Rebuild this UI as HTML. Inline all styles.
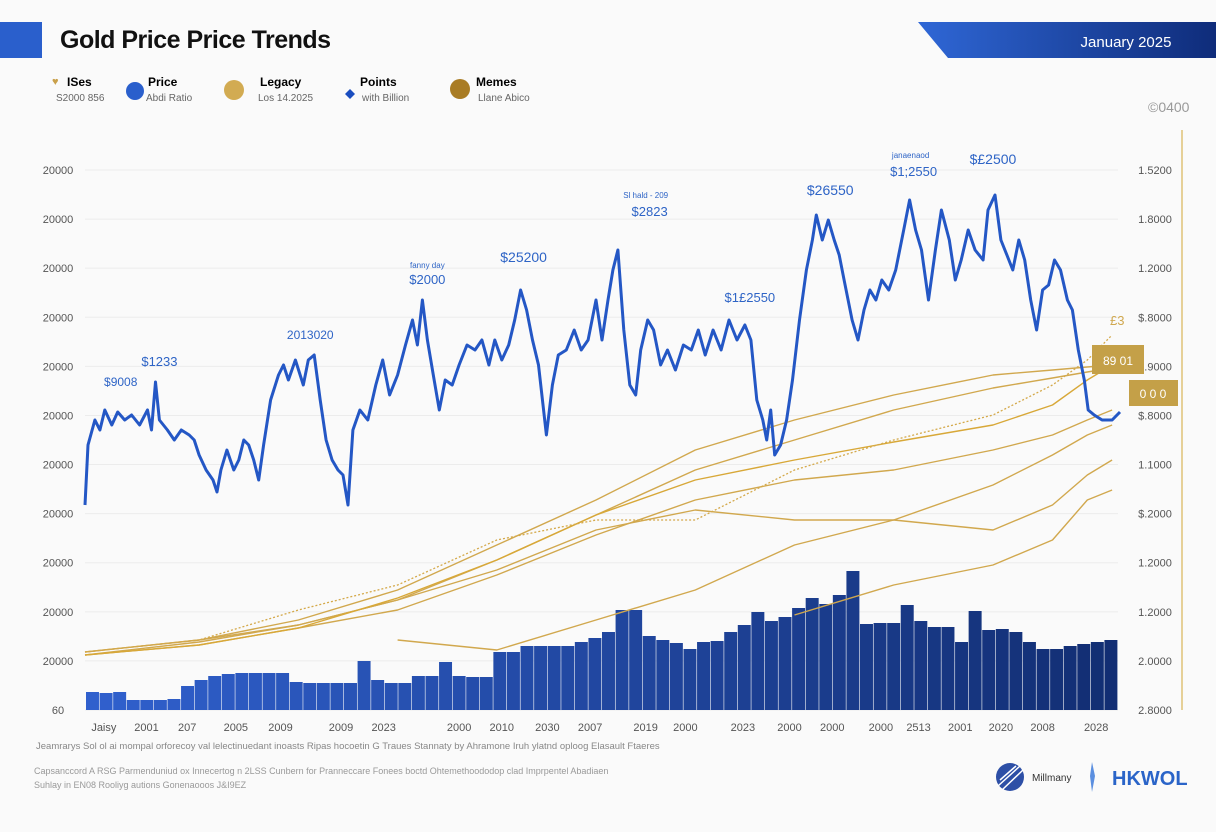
<!DOCTYPE html>
<html><head><meta charset="utf-8">
<style>
body{margin:0;width:1216px;height:832px;background:#fafafa;font-family:"Liberation Sans",sans-serif;overflow:hidden;position:relative}
.abs{position:absolute}
</style></head><body>
<div class="abs" style="left:0;top:22px;width:42px;height:36px;background:#2a5fcc"></div>
<div class="abs" style="left:60px;top:26px;font-size:25px;font-weight:bold;color:#111;letter-spacing:-0.5px">Gold Price Price Trends</div>
<svg class="abs" style="left:0;top:0" width="1216" height="832">
<defs>
<linearGradient id="bn" x1="0" x2="1"><stop offset="0" stop-color="#2f67d6"/><stop offset="1" stop-color="#0f2c7a"/></linearGradient>
</defs>
<polygon points="918,22 1216,22 1216,58 948,58" fill="url(#bn)"/>
<text x="1126" y="47" fill="#fff" font-size="15" text-anchor="middle">January 2025</text>
<g id="legend" font-size="12">
<g><text x="52" y="85" fill="#c9a04a" font-size="11">♥</text><text x="67" y="86" font-weight="bold">ISes</text><text x="56" y="101" fill="#666" font-size="10">S2000 856</text></g>
<g><circle cx="135" cy="91" r="9" fill="#2a5fcc"/><text x="148" y="86" font-weight="bold">Price</text><text x="146" y="101" fill="#666" font-size="10">Abdi Ratio</text></g>
<g><circle cx="234" cy="90" r="10" fill="#d2ab52"/><text x="260" y="86" font-weight="bold">Legacy</text><text x="258" y="101" fill="#666" font-size="10">Los 14.2025</text></g>
<g><path d="M350,89 l5,5 -5,5 -5,-5z" fill="#1a4dbf"/><text x="360" y="86" font-weight="bold">Points</text><text x="362" y="101" fill="#666" font-size="10">with Billion</text></g>
<g><circle cx="460" cy="89" r="10" fill="#a97c24"/><text x="476" y="86" font-weight="bold">Memes</text><text x="478" y="101" fill="#666" font-size="10">Llane Abico</text></g>
</g>
<text x="1148" y="112" fill="#999" font-size="14">©0400</text>
<g id="grid"></g><g id="bars"></g><g id="gold"></g><g id="price"></g><g id="axes"></g><g id="notes"></g>
<line x1="1182" y1="130" x2="1182" y2="710" stroke="#e0c176" stroke-width="1.5"/>
<g><rect x="1092" y="345" width="52" height="29" fill="#c4a048"/><text x="1118" y="365" fill="#fff" font-size="12" text-anchor="middle">89 01</text></g>
<g><rect x="1129" y="380" width="49" height="26" fill="#c4a048"/><text x="1153" y="398" fill="#fff" font-size="12" text-anchor="middle">0 0 0</text></g>
<text x="1110" y="325" fill="#d0a850" font-size="13">£3</text>
<text x="36" y="749" fill="#888" font-size="9.5">Jeamrarys Sol ol ai mompal orforecoy val lelectinuedant inoasts Ripas hocoetin G Traues Stannaty by Ahramone Iruh ylatnd oploog Elasault Ftaeres</text>
<text x="34" y="774" fill="#999" font-size="9">Capsanccord A RSG Parmenduniud ox Innecertog n 2LSS Cunbern for Pranneccare Fonees boctd Ohtemethoododop clad Imprpentel Abadiaen</text>
<text x="34" y="788" fill="#999" font-size="9">Suhlay in EN08 Rooliyg autions Gonenaooos J&amp;I9EZ</text>
<g><circle cx="1010" cy="777" r="14" fill="#2d4fa6"/><path d="M998,786 L1020,766 M1002,790 L1023,770 M1000,780 L1016,766" stroke="#fff" stroke-width="1.5"/></g>
<text x="1032" y="781" font-size="10" fill="#333">Millmany</text>
<path d="M1092,762 l3,14 -3,16 -2,-16z" fill="#5b8fe0"/>
<text x="1112" y="785" font-size="20" font-weight="bold" fill="#2a64c8">HKWOL</text>
</svg>
<script>
const leftTicks=["60","20000","20000","20000","20000","20000","20000","20000","20000","20000","20000","20000"];
const rightTicks=["2.8000","2.0000","1.2000","1.2000","$.2000","1.1000","$.8000","1.9000","$.8000","1.2000","1.8000","1.5200"];
const xLabels=["Jaisy","2001","207","2005","2009","2009","2023","2000","2010","2030","2007","2019","2000","2023","2000","2000","2000","2513","2001","2020","2008","2028"];
const xLabelTimes=[19,62,103,152,197,258,301,377,420,466,509,565,605,663,710,753,802,840,882,923,965,1019];
const barValues=[18,17,18,10,10,10,11,24,30,34,36,37,37,37,37,28,27,27,27,27,49,30,27,27,34,34,48,34,33,33,58,58,64,64,64,64,68,72,78,100,100,74,70,67,61,68,69,78,85,98,89,93,102,112,106,115,139,86,87,87,105,89,83,83,68,99,80,81,78,68,61,61,64,66,68,70];
const pricePoints=[[0,205],[3,265],[10,290],[15,280],[20,300],[27,285],[33,298],[40,290],[47,295],[55,285],[63,300],[67,280],[71,328],[75,290],[83,280],[90,270],[97,280],[105,275],[110,270],[115,255],[122,240],[129,230],[133,218],[137,240],[143,260],[150,240],[155,250],[160,270],[165,265],[170,250],[175,230],[180,265],[187,310],[195,335],[200,345],[205,330],[212,350],[220,325],[225,350],[231,355],[237,310],[243,270],[249,250],[255,240],[260,235],[265,205],[270,280],[277,300],[285,290],[293,325],[300,350],[307,315],[315,335],[323,365],[330,390],[335,365],[340,410],[345,370],[351,335],[357,300],[363,330],[370,325],[377,345],[385,365],[393,360],[400,370],[407,345],[413,370],[420,350],[427,365],[433,390],[439,420],[445,400],[451,370],[457,345],[465,275],[471,325],[477,355],[485,360],[493,380],[500,360],[507,370],[515,410],[521,370],[527,410],[532,440],[537,460],[543,380],[549,325],[555,315],[560,360],[567,390],[573,380],[580,345],[587,360],[595,340],[603,365],[611,360],[618,380],[625,355],[633,380],[641,360],[649,390],[657,370],[665,385],[671,370],[677,310],[683,290],[687,270],[691,300],[695,255],[701,265],[707,290],[713,330],[720,390],[727,440],[733,470],[737,495],[743,470],[749,490],[755,470],[760,455],[765,430],[773,390],[779,370],[785,400],[791,420],[797,410],[803,430],[810,420],[817,440],[825,480],[831,510],[837,480],[843,460],[850,410],[857,460],[863,500],[871,470],[877,430],[883,450],[890,480],[897,460],[905,450],[910,500],[917,515],[923,470],[929,455],[935,440],[941,470],[947,450],[953,410],[959,380],[965,420],[971,425],[977,450],[983,440],[990,410],[995,400],[1001,360],[1007,330],[1011,300],[1017,295],[1025,290],[1035,290],[1043,298]];
const goldT=[0,115,215,315,415,515,615,715,815,915,975,1010,1035];
const gold1=[58,70,90,120,165,210,260,290,315,335,340,343,345];
const gold2=[55,68,85,110,150,195,240,270,300,322,332,338,342];
const gold3=[55,65,82,100,135,175,210,230,240,260,275,290,300];
const gold4=[58,70,85,110,140,180,200,190,190,225,255,275,285];
const gold5=[null,null,null,70,60,90,120,165,190,180,205,235,250];
const gold6=[null,null,null,null,null,null,null,95,125,145,170,210,220];
const gold7=[55,65,82,112,150,195,230,250,268,285,305,330,345];
const goldDash=[58,70,100,125,170,190,190,240,270,295,325,350,375];
const notes=[["$1233",75,344,13],["$9008",36,324,12],["2013020",227,371,12],["fanny day",345,442,8],["$2000",345,426,13],["$25200",442,448,14],["Sl hald - 209",565,512,8],["$2823",569,494,13],["$1£2550",670,408,13],["$26550",751,515,14],["janaenaod",832,552,8],["$1;2550",835,534,13],["$£2500",915,546,14]];
const NS="http://www.w3.org/2000/svg";
const X0=85,X1=1120,T1=1043,Y0=710,Y1=170;
const xs=t=>X0+t/T1*(X1-X0);
const ys=v=>Y0-v/540*(Y0-Y1);
const el=(tag,a,p)=>{const e=document.createElementNS(NS,tag);for(const k in a)e.setAttribute(k,a[k]);document.getElementById(p).appendChild(e);return e;};
leftTicks.forEach((s,i)=>{const y=Y0-i*(Y0-Y1)/(leftTicks.length-1);
 const g=el('line',{x1:X0,x2:1118,y1:y,y2:y,stroke:'#ececec'},'grid');
 
 
 const t=el('text',{x:58,y:y+4,'text-anchor':'middle','font-size':11,fill:'#555'},'axes');t.textContent=s;
 
 
 const r=el('text',{x:1155,y:y+4,'text-anchor':'middle','font-size':11,fill:'#555'},'axes');r.textContent=rightTicks[i];
 
 });
xLabels.forEach((s,i)=>{const t=el('text',{x:xs(xLabelTimes[i]),y:731,'text-anchor':'middle','font-size':11,fill:'#555'},'axes');t.textContent=s;
 
 });
const bw=(1118-86)/barValues.length;
barValues.forEach((v,i)=>{const f=i/(barValues.length-1);
 const c=`rgb(${Math.round(48-30*f)},${Math.round(96-50*f)},${Math.round(205-90*f)})`;
 const b=el('rect',{x:86+i*bw,y:Y0-v,width:bw-0.6,height:v,fill:c},'bars');
 
 });
const line=(T,V,attrs,name)=>{let d='';T.forEach((t,i)=>{if(V[i]==null)return;d+=(d?'L':'M')+xs(t).toFixed(1)+','+ys(V[i]).toFixed(1);});
 const g=attrs.g;delete attrs.g;
 const p=el('path',Object.assign({d,fill:'none'},attrs),g);
 
 };
[gold1,gold2,gold3,gold4,gold5,gold6,gold7].forEach((s,i)=>line(goldT,s,{g:'gold',stroke:i==6?'#d8a838':'#d1a84e','stroke-width':1.4,'stroke-linejoin':'round'},'gold-trend-line'));
line(goldT,goldDash,{g:'gold',stroke:'#d4a94a','stroke-width':1.3,'stroke-dasharray':'2 2'},'gold-dashed-line');
line(pricePoints.map(p=>p[0]),pricePoints.map(p=>p[1]),{g:'price',stroke:'#2457c5','stroke-width':3,'stroke-linejoin':'round'},'price-line');
notes.forEach(n=>{const t=el('text',{x:xs(n[1]),y:ys(n[2]),'text-anchor':'middle','font-size':n[3],fill:'#2e64c6'},'notes');t.textContent=n[0];
 
 });
</script>
</body></html>
